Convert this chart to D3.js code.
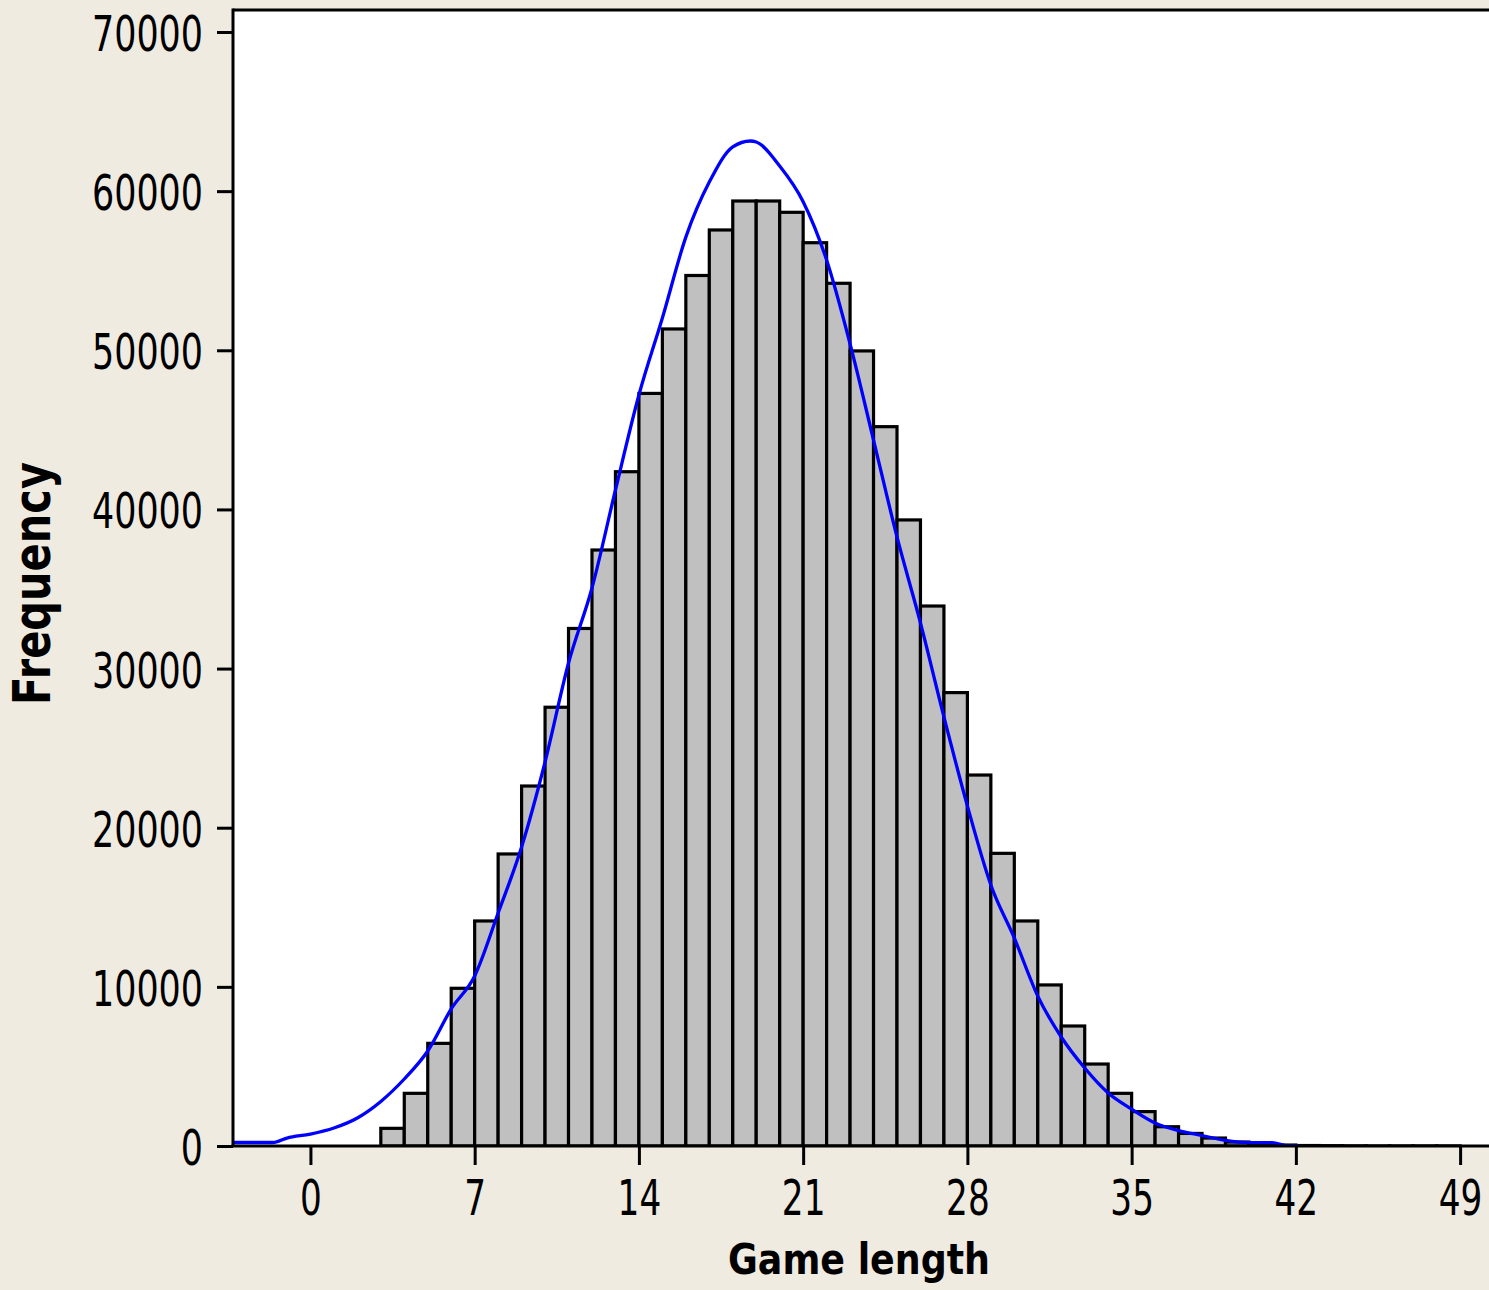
<!DOCTYPE html>
<html>
<head>
<meta charset="utf-8">
<script src="https://cdn.jsdelivr.net/npm/d3@7"></script>
<style>
  html, body { margin: 0; padding: 0; background: #EFEBE1; }
  svg { display: block; }
</style>
</head>
<body>
<svg id="chart" width="1489" height="1290"></svg>
<script>
// ---- data ----
const binStarts = [3,4,5,6,7,8,9,10,11,12,13,14,15,16,17,18,19,20,21,22,23,24,25,26,27,28,29,30,31,32,33,34,35,36,37,38,39,40,41,42,43,44,45,46,47,48];
const frequencies = [1110,3310,6450,9910,14140,18350,22620,27570,32520,37450,42370,47290,51340,54700,57560,59380,59380,58670,56760,54210,49960,45200,39340,33930,28490,23310,18390,14140,10120,7540,5150,3310,2160,1210,790,500,250,120,60,30,20,10,5,5,5,5];
const curveX = [-3.3,-2,-1.6,-1,0,1,2,3,4,5,6,7,8,9,10,11,12,13,14,15,16,17,18,18.75,19,20,21,22,23,24,25,26,27,28,29,30,31,32,33,34,35,36,37,38,39,40,41,41.6,42.1];
const curveY = [220,220,220,500,750,1130,1760,2800,4210,5970,8610,10680,14640,18790,24130,30350,35060,41220,47190,52030,57110,60570,62780,63150,63090,61580,59340,55670,50400,44360,38270,32870,26960,21370,16400,13070,9420,6850,4900,3330,2320,1450,970,660,350,210,210,20,20];
const xTicks = [0,7,14,21,28,35,42,49];
const yTicks = [0,10000,20000,30000,40000,50000,60000,70000];
const xTitle = "Game length";
const yTitle = "Frequency";

(function(){
// ---- layout ----
const svg = d3.select("#chart");
const pLeft = 233, pTop = 10, pBottom = 1146, pRight = 1500;
const x = d3.scaleLinear().domain([-3.3, 50.7]).range([pLeft, pRight]);
const y = d3.scaleLinear().domain([0, 70000]).range([pBottom, 32]);

svg.append("rect").attr("x",0).attr("y",0).attr("width",1489).attr("height",1290).attr("fill","#EFEBE1");

svg.append("defs").append("clipPath").attr("id","plotclip")
  .append("rect").attr("x",pLeft).attr("y",pTop).attr("width",pRight-pLeft).attr("height",pBottom-pTop);

svg.append("rect").attr("x",pLeft).attr("y",pTop).attr("width",pRight-pLeft).attr("height",pBottom-pTop).attr("fill","#ffffff");

const plot = svg.append("g").attr("clip-path","url(#plotclip)");

// bars
plot.selectAll("rect.bar").data(binStarts.map((s,i)=>({s, v: frequencies[i]})))
  .enter().append("rect").attr("class","bar")
  .attr("x", d => x(d.s))
  .attr("width", d => x(d.s+1) - x(d.s))
  .attr("y", d => y(d.v))
  .attr("height", d => y(0) - y(d.v))
  .attr("fill","#C0C0C0").attr("stroke","#000").attr("stroke-width",3.2);

// density curve
const line = d3.line().x(d => x(d[0])).y(d => y(d[1])).curve(d3.curveMonotoneX);
plot.append("path").datum(curveX.map((v,i)=>[v, curveY[i]]))
  .attr("d", line).attr("fill","none").attr("stroke","#0000FF").attr("stroke-width",3.3);

// frame: left and top lines
svg.append("line").attr("x1",pLeft).attr("x2",pLeft).attr("y1",pTop-1.5).attr("y2",pBottom).attr("stroke","#000").attr("stroke-width",3);
svg.append("line").attr("x1",pLeft).attr("x2",pRight).attr("y1",pTop).attr("y2",pTop).attr("stroke","#000").attr("stroke-width",3);

// axes
const fontNum = "'DejaVu Sans Condensed','DejaVu Sans',sans-serif";
const xAxis = d3.axisBottom(x).tickValues(xTicks).tickSize(19).tickPadding(0).tickFormat(d3.format("d"));
const gx = svg.append("g").attr("transform",`translate(0,${pBottom})`).call(xAxis);
gx.select(".domain").attr("stroke","#000").attr("stroke-width",3).attr("d",`M${pLeft-1.5},0H${pRight}`);
gx.selectAll(".tick line").attr("stroke","#000").attr("stroke-width",3);
gx.selectAll(".tick text")
  .attr("y", 69).attr("dy", null)
  .attr("font-family", fontNum).attr("font-size", 50).attr("fill","#000")
  .each(function(d){ const s = String(d); d3.select(this).attr("textLength", s.length*21.8).attr("lengthAdjust","spacingAndGlyphs"); });

const yAxis = d3.axisLeft(y).tickValues(yTicks).tickSize(16).tickPadding(0).tickFormat(d3.format("d"));
const gy = svg.append("g").attr("transform",`translate(${pLeft},0)`).call(yAxis);
gy.select(".domain").remove();
gy.selectAll(".tick line").attr("stroke","#000").attr("stroke-width",3);
gy.selectAll(".tick text")
  .attr("x", -30).attr("dy", "0.37em")
  .attr("font-family", fontNum).attr("font-size", 50).attr("fill","#000").attr("text-anchor","end")
  .each(function(d){ const s = String(d); d3.select(this).attr("textLength", s.length*22.2).attr("lengthAdjust","spacingAndGlyphs"); });

// titles
svg.append("text").text(xTitle)
  .attr("x", 859).attr("y", 1274).attr("text-anchor","middle")
  .attr("font-family","'DejaVu Sans','Verdana',sans-serif").attr("font-weight","bold").attr("font-size",42)
  .attr("textLength",262).attr("lengthAdjust","spacingAndGlyphs").attr("fill","#000");

svg.append("text").text(yTitle)
  .attr("transform","translate(50,583.5) rotate(-90)").attr("text-anchor","middle")
  .attr("font-family","'DejaVu Sans','Verdana',sans-serif").attr("font-weight","bold").attr("font-size",51)
  .attr("textLength",243).attr("lengthAdjust","spacingAndGlyphs").attr("fill","#000");
})();
</script>
</body>
</html>
